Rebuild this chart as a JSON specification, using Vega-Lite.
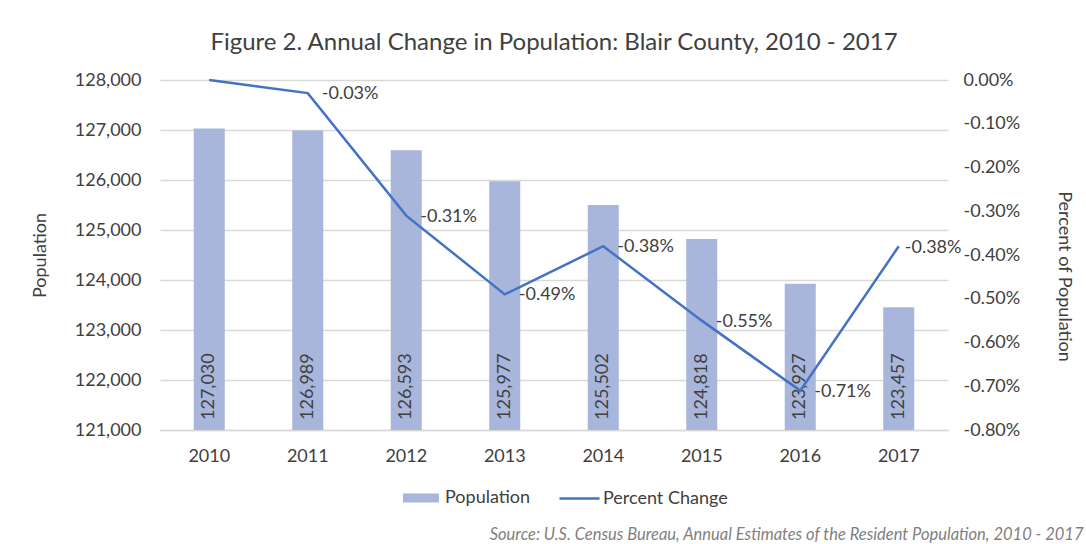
{
  "$schema": "https://vega.github.io/schema/vega-lite/v6.json",
  "width": 788,
  "height": 350,
  "autosize": "none",
  "padding": {"left": 160, "top": 80, "right": 138, "bottom": 114},
  "background": "white",
  "config": {
    "view": {"stroke": null},
    "font": "Lato",
    "locale": {"number": {"decimal": ".", "thousands": ",", "grouping": [3], "currency": ["$", ""], "minus": "-"}},
    "axis": {"labelFont": "Lato", "titleFont": "Lato", "labelColor": "#404040", "titleColor": "#404040"},
    "legend": {"labelFont": "Lato", "labelColor": "#404040"}
  },
  "title": {
    "text": "Figure 2. Annual Change in Population: Blair County, 2010 - 2017",
    "font": "Lato",
    "fontSize": 24,
    "fontWeight": "normal",
    "color": "#404040",
    "anchor": "middle",
    "offset": 16
  },
  "data": {
    "values": [
      {"year": "2010", "population": 127030, "pct": 0},
      {"year": "2011", "population": 126989, "pct": -0.0003},
      {"year": "2012", "population": 126593, "pct": -0.0031},
      {"year": "2013", "population": 125977, "pct": -0.0049},
      {"year": "2014", "population": 125502, "pct": -0.0038},
      {"year": "2015", "population": 124818, "pct": -0.0055},
      {"year": "2016", "population": 123927, "pct": -0.0071},
      {"year": "2017", "population": 123457, "pct": -0.0038}
    ]
  },
  "encoding": {
    "x": {
      "field": "year",
      "type": "nominal",
      "sort": null,
      "scale": {"paddingInner": 0, "paddingOuter": 0},
      "axis": {
        "labelAngle": 0,
        "labelFontSize": 18,
        "labelPadding": 17,
        "ticks": false,
        "grid": false,
        "domainColor": "#D9D9D9",
        "domainWidth": 1.5,
        "title": "Source: U.S. Census Bureau, Annual Estimates of the Resident Population, 2010 - 2017",
        "titleFontStyle": "italic",
        "titleFontWeight": "normal",
        "titleFontSize": 16.5,
        "titleColor": "#7F7F7F",
        "titleAlign": "right",
        "titleAnchor": "end",
        "titleX": 923,
        "titleY": 104,
        "titleBaseline": "middle"
      }
    }
  },
  "layer": [
    {
      "layer": [
        {
          "mark": {"type": "bar", "width": {"band": 0.315}},
          "encoding": {
            "y": {
              "field": "population",
              "type": "quantitative",
              "scale": {"domain": [121000, 128000], "nice": false, "zero": false},
              "axis": {
                "title": "Population",
                "values": [121000, 122000, 123000, 124000, 125000, 126000, 127000, 128000],
                "format": ",d",
                "labelFontSize": 18,
                "labelPadding": 19,
                "ticks": false,
                "domain": false,
                "grid": true,
                "gridColor": "#D9D9D9",
                "gridWidth": 1.5,
                "titleFontSize": 18,
                "titleFontWeight": "normal",
                "titleX": -120,
                "titleY": 175,
                "titleAngle": -90,
                "titleAlign": "center",
                "titleBaseline": "middle"
              }
            },
            "y2": {"datum": 121000},
            "fill": {
              "datum": "Population",
              "scale": {"range": ["#A9B6DC"]},
              "legend": {
                "title": null,
                "orient": "none",
                "legendX": 243,
                "legendY": 400,
                "padding": 0,
                "symbolType": "M-1,-0.25H1V0.25H-1Z",
                "symbolSize": 1296,
                "symbolStrokeWidth": 0,
                "labelFontSize": 18,
                "labelOffset": 6
              }
            }
          }
        },
        {
          "mark": {"type": "text", "angle": 270, "align": "left", "baseline": "middle", "dx": 10, "fontSize": 18, "color": "#404040", "font": "Lato"},
          "encoding": {
            "y": {"datum": 121000, "type": "quantitative"},
            "text": {"field": "population", "type": "quantitative", "format": ",d"}
          }
        }
      ]
    },
    {
      "layer": [
        {
          "mark": {"type": "line", "strokeWidth": 2.5},
          "encoding": {
            "y": {
              "field": "pct",
              "type": "quantitative",
              "scale": {"domain": [-0.008, 0], "nice": false, "zero": false},
              "axis": {
                "orient": "right",
                "title": "Percent of Population",
                "values": [0, -0.001, -0.002, -0.003, -0.004, -0.005, -0.006, -0.007, -0.008],
                "format": ".2%",
                "labelFontSize": 18,
                "labelPadding": 15,
                "ticks": false,
                "domain": false,
                "grid": false,
                "titleFontSize": 18,
                "titleFontWeight": "normal",
                "titleX": 115,
                "titleY": 196,
                "titleAngle": 90,
                "titleAlign": "center",
                "titleBaseline": "middle"
              }
            },
            "stroke": {
              "datum": "Percent Change",
              "scale": {"range": ["#4472C4"]},
              "legend": {
                "title": null,
                "orient": "none",
                "legendX": 398,
                "legendY": 397,
                "padding": 0,
                "symbolType": "stroke",
                "symbolSize": 1600,
                "symbolStrokeWidth": 2.5,
                "labelFontSize": 18,
                "labelOffset": 2
              }
            }
          }
        },
        {
          "transform": [{"filter": "datum.year != '2010' && datum.year != '2017'"}],
          "mark": {"type": "text", "align": "left", "baseline": "middle", "dx": 14, "dy": 1, "fontSize": 18, "color": "#404040", "font": "Lato"},
          "encoding": {
            "y": {"field": "pct", "type": "quantitative"},
            "text": {"field": "pct", "type": "quantitative", "format": ".2%"}
          }
        },
        {
          "transform": [{"filter": "datum.year == '2017'"}],
          "mark": {"type": "text", "align": "left", "baseline": "middle", "dx": 6, "dy": 2, "fontSize": 18, "color": "#404040", "font": "Lato"},
          "encoding": {
            "y": {"field": "pct", "type": "quantitative"},
            "text": {"field": "pct", "type": "quantitative", "format": ".2%"}
          }
        }
      ]
    }
  ],
  "resolve": {"scale": {"y": "independent"}}
}
